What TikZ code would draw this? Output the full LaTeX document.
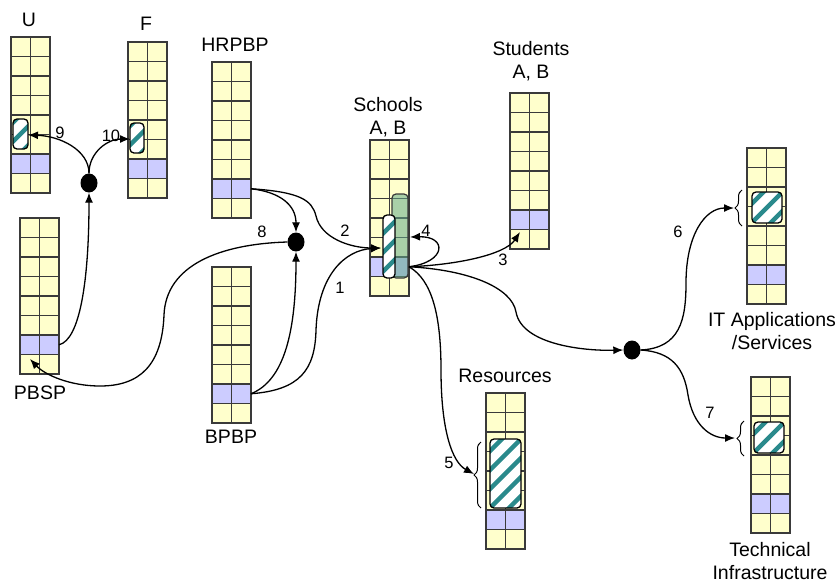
\documentclass[tikz,border=0pt]{standalone}
\usepackage{fontspec}
\setmainfont{Liberation Sans}
\usetikzlibrary{arrows.meta,shapes.geometric,decorations.pathreplacing}
\definecolor{cellY}{HTML}{FFFFCC}
\definecolor{cellP}{HTML}{CCCCFF}
\definecolor{cellB}{HTML}{3A3A3A}
\definecolor{stripcol}{RGB}{42,138,140}
\definecolor{grncol}{RGB}{100,170,140}
\tikzset{
  cellbox/.style={draw=cellB, line width=1.2pt},
  conn/.style={draw=black, line width=1.3pt, -{Latex[length=10pt,width=8pt]}},
  dotn/.style={ellipse, fill=black, inner sep=0pt, minimum width=17pt, minimum height=19pt},
  lab/.style={font=\fontsize{19.5}{23}\selectfont, align=center, inner sep=0pt},
  num/.style={font=\fontsize{16.5}{19}\selectfont, inner sep=0pt},
  bracebox/.style={draw=black, line width=1pt, decorate, decoration={brace, amplitude=7pt, aspect=0.5}},
}
\newcommand\mygrid[3]{%
  \foreach \r in {0,...,7}{\foreach \c in {0,1}{%
    \ifnum\r=6 \def\fc{cellP}\else\def\fc{cellY}\fi
    \draw[cellbox, fill=\fc] ({#2+\c*19.5},{#3+\r*19.5}) rectangle ++(19.5,19.5);
  }}%
  \coordinate (#1-pr) at ({#2+39},{#3+6.5*19.5});
}
\newcommand\hilite[4]{%
  \fill[white, rounded corners=4pt] (#1,#2) rectangle (#3,#4);
  \begin{scope}
    \clip[rounded corners=4pt] (#1,#2) rectangle (#3,#4);
    \foreach \k in {-6,...,6}{\draw[stripcol, line width=4.5pt] ({(#1+#3)/2+\k*19-120},{(#2+#4)/2+120}) -- ++(240,-240);}
  \end{scope}
  \draw[line width=1.3pt, rounded corners=4pt] (#1,#2) rectangle (#3,#4);
}
\begin{document}
\begin{tikzpicture}[x=1pt, y=-1pt]
\useasboundingbox (0,0) rectangle (840,582);

% grids
\mygrid{U}{11}{37}
\mygrid{F}{128}{42}
\mygrid{HR}{212}{62}
\mygrid{PB}{20}{218}
\mygrid{BP}{212}{267}
\mygrid{S}{370}{140}
\mygrid{St}{510}{93}
\mygrid{R}{486}{393}
\mygrid{IT}{747}{148}
\mygrid{T}{751}{377}

% highlights
\hilite{13}{119}{28}{149}
\hilite{130}{123}{144}{153}
\draw[cellB, line width=1.2pt, fill=grncol, fill opacity=0.55, rounded corners=4pt] (392,194) rectangle (408,278);
\hilite{383}{215}{395}{278}
\hilite{752}{192}{782}{223}
\hilite{754}{422}{784}{453}
\hilite{490}{439}{521}{508}

% brackets
\draw[bracebox] (481,508) -- (481,442);
\draw[bracebox] (742,226) -- (742,190);
\draw[bracebox] (744,456) -- (744,421);

% target coordinates
\coordinate (U-in) at (28,135);
\coordinate (F-in) at (130,139);
\coordinate (PB-in) at (30,359);
\coordinate (S-in) at (381,248);
\coordinate (S-in4) at (410,237);
\coordinate (St-in) at (520,232);
\coordinate (R-br) at (474,474);
\coordinate (IT-br) at (734,208);
\coordinate (T-br) at (735,438);

% dots
\node[dotn] (d1) at (89,183) {};
\node[dotn] (d8) at (296,242) {};
\node[dotn] (d2) at (632,350) {};

% connectors
\draw[conn] (PB-pr) .. controls (80,340) and (89,280) .. (d1.south);
\draw[conn] (d1.north) .. controls (89,150) and (60,136) .. (U-in);
\draw[conn] (d1.north) .. controls (89,152) and (108,139) .. (F-in);
\draw[conn] (HR-pr) .. controls (280,192) and (296,205) .. (d8.north);
\draw[conn] (BP-pr) .. controls (285,380) and (296,330) .. (d8.south);
\draw[conn] (d8.west) .. controls (220,244) and (166,265) .. (164,315) .. controls (162,365) and (140,386) .. (100,386) .. controls (70,386) and (45,375) .. (PB-in);
\draw[conn] (BP-pr) .. controls (300,390) and (315,370) .. (316,330) .. controls (318,275) and (345,250) .. (S-in);
\draw[conn] (HR-pr) .. controls (300,192) and (312,200) .. (316,216) .. controls (321,238) and (350,248) .. (S-in);
\draw[conn] (S-pr) .. controls (447,262) and (447,236) .. (S-in4);
\draw[conn] (S-pr) .. controls (455,265) and (505,255) .. (St-in);
\draw[conn] (S-pr) .. controls (432,280) and (441,315) .. (441,370) .. controls (441,430) and (452,462) .. (R-br);
\draw[conn] (S-pr) .. controls (470,270) and (512,288) .. (516,312) .. controls (522,345) and (585,351) .. (d2.west);
\draw[conn] (d2.east) .. controls (680,348) and (686,320) .. (686,283) .. controls (686,235) and (705,208) .. (IT-br);
\draw[conn] (d2.east) .. controls (672,352) and (684,368) .. (688,395) .. controls (693,425) and (710,438) .. (T-br);

% labels
\node[lab] (tU) at (29,20) {U};
\node[lab] (tF) at (146,24) {F};
\node[lab] (tHR) at (235,45) {HRPBP};
\node[lab] (tPB) at (40,393) {PBSP};
\node[lab] (tBP) at (231,437) {BPBP};
\node[lab] (tS) at (388,117) {Schools\\A, B};
\node[lab] (tSt) at (531,61) {Students\\A, B};
\node[lab] (tR) at (505,376) {Resources};
\node[lab] (tIT) at (772,331) {IT Applications\\/Services};
\node[lab] (tT) at (770,561) {Technical\\Infrastructure};

% numbers
\node[num] (n1) at (340,288) {1};
\node[num] (n2) at (345,231) {2};
\node[num] (n3) at (503,260) {3};
\node[num] (n4) at (426,231) {4};
\node[num] (n5) at (449,463) {5};
\node[num] (n6) at (678,232) {6};
\node[num] (n7) at (710,413) {7};
\node[num] (n8) at (262,232) {8};
\node[num] (n9) at (60,133) {9};
\node[num] (n10) at (111,136) {10};
\end{tikzpicture}
\end{document}
